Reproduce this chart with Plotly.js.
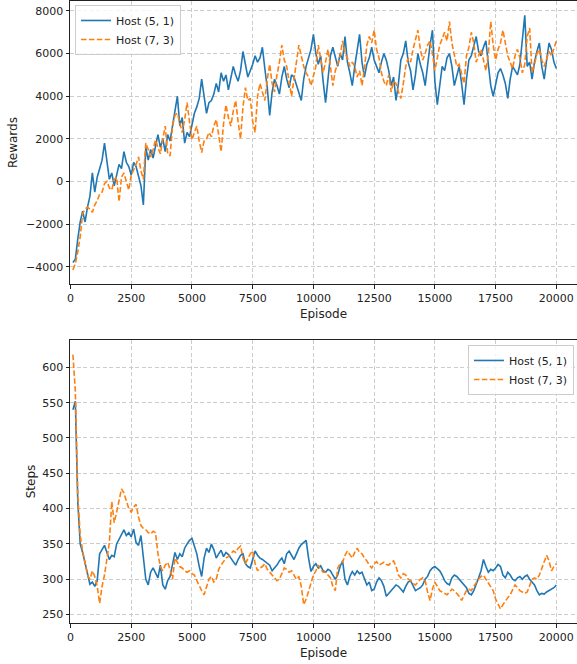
<!DOCTYPE html>
<html>
<head>
<meta charset="utf-8">
<script src="https://cdn.plot.ly/plotly-3.0.1.min.js"></script>
<style>
html,body{margin:0;padding:0;background:#fff;}
#chart{width:577px;height:664px;}
</style>
</head>
<body>
<div id="chart"></div>
<script>
// Sampled every 100 episodes (100 .. 20000)
const seriesNames = ["Host (5, 1)", "Host (7, 3)"];

const rewardsHost51 = [
 -3800,-3650,-2700,-1900,-1400,-1900,-1200,-700,400,-500,
 200,600,1000,1800,900,100,400,-200,300,800,
 600,1400,900,700,300,900,700,200,-200,-1100,
 1600,1000,1500,1100,1700,2200,1600,2000,1400,2200,
 1900,2600,3300,4000,2600,3000,1800,2300,2100,2600,
 3200,3500,3900,4800,4000,3200,3700,3800,4100,4600,
 4200,5100,4700,5000,4300,4800,5400,5000,4700,5200,
 6100,5500,4900,5200,5500,5900,5600,5800,6300,5300,
 4400,3100,4200,4800,4500,4100,4900,5400,4800,4400,
 5000,4900,4500,4100,3800,4800,5400,5800,6200,6900,
 6000,5500,5900,4700,3700,4800,5900,6300,5800,5400,
 6000,5700,6800,5600,5100,4500,5400,6200,6900,5600,
 4900,5500,5800,6300,5700,5400,5100,5600,6000,5700,
 5200,4500,4900,3800,4600,5700,6000,6600,5600,5200,
 4300,5000,6000,5500,5100,4500,5600,6400,7100,4700,
 3600,4600,5400,5200,5800,6000,5400,4500,5000,5400,
 4600,3600,4800,5700,5900,6400,6800,6100,5900,6300,
 6600,5500,4500,4000,4600,5100,5300,5000,4600,3900,
 4800,5400,5200,5000,5500,6600,7800,5400,5600,4800,
 5600,6100,6500,5400,4800,5700,6500,6200,5600,5300
];

const rewardsHost73 = [
 -4150,-3850,-3300,-2600,-1500,-1300,-1200,-1300,-1450,-1100,
 -900,-600,-500,-100,0,-300,-400,100,200,-950,
 200,400,0,-400,300,550,800,1150,500,100,
 1800,1500,1150,1500,1950,1600,1300,2000,2600,1300,
 1200,2600,3100,3200,2700,2300,2900,3700,2800,1950,
 2300,2600,1900,1350,1900,2000,2300,2100,2600,2900,
 2200,1400,2700,3600,3000,2600,3300,3800,2800,2000,
 3500,4400,3800,3900,2800,2300,4000,4600,4200,3800,
 4800,5500,4600,4200,5000,5600,6400,5700,5400,4700,
 4000,4800,5600,6400,5900,5400,5100,4900,4500,5000,
 5400,6400,5700,5100,5600,6200,5400,4500,5200,5500,
 5900,6600,6000,5800,5400,5600,5400,4900,5200,4500,
 5300,6400,6800,6500,7100,6200,5800,5100,4700,4500,
 5000,4200,4700,4600,4200,3900,4600,5400,5800,5600,
 6200,6600,7100,6200,5700,6000,6400,6600,6000,5200,
 5900,6400,6700,7000,6600,7500,6500,5900,5400,5500,
 5100,4600,5900,6300,7000,6500,5600,5900,6200,5700,
 5200,6000,7500,6400,5700,6200,6500,7100,6400,5900,
 5600,5300,5900,6200,5800,5100,5500,6800,7200,5100,
 5500,6000,6200,5700,5400,5800,6100,5900,6300,6600
];

const stepsHost51 = [
 540,552,410,350,338,322,310,293,296,290,
 298,336,342,348,338,328,334,332,350,357,
 364,370,362,366,360,371,352,348,362,335,
 300,292,310,316,308,302,320,292,286,298,
 304,320,338,328,336,332,344,350,355,358,
 345,336,318,304,330,344,338,350,342,330,
 336,341,332,338,335,330,325,320,328,334,
 336,322,318,316,328,340,334,330,328,325,
 322,320,312,316,320,326,330,322,336,340,
 333,328,336,344,349,352,355,330,311,318,
 322,316,319,312,310,314,312,306,300,306,
 318,326,300,292,304,311,306,312,308,310,
 300,292,296,284,286,296,302,298,290,276,
 280,284,288,292,290,286,282,290,296,298,
 290,284,286,288,292,300,304,312,316,318,
 315,312,306,298,294,292,302,306,304,300,
 296,292,288,280,278,284,292,302,312,328,
 318,310,314,312,316,321,318,306,302,310,
 306,300,298,302,304,300,304,306,300,296,
 292,284,278,280,279,282,284,286,288,292
];

const stepsHost73 = [
 618,566,420,362,340,322,306,300,312,304,
 290,266,290,306,332,352,410,380,395,410,
 428,422,412,400,395,402,406,388,376,372,
 370,366,364,368,366,336,318,312,320,324,
 314,300,330,324,318,316,312,310,312,308,
 306,298,290,284,278,290,300,304,296,300,
 314,320,326,330,332,336,340,338,344,347,
 330,322,330,336,340,322,312,316,318,322,
 314,310,306,302,298,300,308,316,314,310,
 312,306,300,304,290,264,272,283,296,306,
 312,320,314,310,310,306,302,290,284,316,
 322,324,334,340,334,330,338,344,338,336,
 330,326,320,316,322,325,320,322,324,321,
 320,324,326,318,306,302,308,306,300,298,
 294,292,296,300,302,298,282,270,286,296,
 290,284,282,280,278,282,286,284,280,276,
 270,278,284,286,284,290,296,300,304,306,
 300,294,290,284,272,266,258,264,270,274,
 278,284,292,288,284,282,280,282,290,300,
 302,300,306,316,326,334,326,312,318,322
];

const episodes = rewardsHost51.map((_, i) => (i + 1) * 100);

const xTicks = [0, 2500, 5000, 7500, 10000, 12500, 15000, 17500, 20000];
const rewardTicks = [-4000, -2000, 0, 2000, 4000, 6000, 8000];
const stepTicks = [250, 300, 350, 400, 450, 500, 550, 600];

const blue = '#1f77b4', orange = '#ff7f0e';
const fontFam = '"DejaVu Sans", Verdana, sans-serif';

const traces = [
  {x: episodes, y: rewardsHost51, name: seriesNames[0], type: 'scatter', mode: 'lines',
   line: {color: blue, width: 1.6}, xaxis: 'x', yaxis: 'y', legend: 'legend'},
  {x: episodes, y: rewardsHost73, name: seriesNames[1], type: 'scatter', mode: 'lines',
   line: {color: orange, width: 1.6, dash: '5.5px,2.4px'}, xaxis: 'x', yaxis: 'y', legend: 'legend'},
  {x: episodes, y: stepsHost51, name: seriesNames[0], type: 'scatter', mode: 'lines',
   line: {color: blue, width: 1.6}, xaxis: 'x2', yaxis: 'y2', legend: 'legend2'},
  {x: episodes, y: stepsHost73, name: seriesNames[1], type: 'scatter', mode: 'lines',
   line: {color: orange, width: 1.6, dash: '5.5px,2.4px'}, xaxis: 'x2', yaxis: 'y2', legend: 'legend2'}
];

const axisCommon = {
  showgrid: true, gridcolor: '#cccccc', griddash: '4px,2.5px', gridwidth: 1,
  zeroline: false, showline: true, linecolor: '#222', linewidth: 1,
  ticks: 'outside', ticklen: 3.5, tickwidth: 1, tickcolor: '#222',
  tickfont: {family: fontFam, size: 11, color: '#222'}
};

const xRange = [-20, 20850];

const layout = {
  width: 577, height: 664,
  margin: {l: 70, r: 0, t: 1, b: 41},
  paper_bgcolor: '#fff', plot_bgcolor: '#fff',
  font: {family: fontFam, size: 11, color: '#222'},
  xaxis: Object.assign({}, axisCommon, {
    domain: [0, 1], anchor: 'y', range: xRange, tickvals: xTicks, tickformat: 'd',
    mirror: true,
    title: {text: 'Episode', font: {family: fontFam, size: 12, color: '#222'}, standoff: 5}
  }),
  yaxis: Object.assign({}, axisCommon, {
    domain: [0.545, 1], anchor: 'x', range: [-4812, 8469], tickvals: rewardTicks, tickformat: 'd',
    title: {text: 'Rewards', font: {family: fontFam, size: 12, color: '#222'}, standoff: 5}
  }),
  xaxis2: Object.assign({}, axisCommon, {
    domain: [0, 1], anchor: 'y2', range: xRange, tickvals: xTicks, tickformat: 'd',
    mirror: true,
    title: {text: 'Episode', font: {family: fontFam, size: 12, color: '#222'}, standoff: 5}
  }),
  yaxis2: Object.assign({}, axisCommon, {
    domain: [0, 0.455], anchor: 'x2', range: [238.1, 638.7], tickvals: stepTicks, tickformat: 'd',
    title: {text: 'Steps', font: {family: fontFam, size: 12, color: '#222'}, standoff: 4}
  }),
  legend: {
    x: 0.0099, y: 0.9936, xanchor: 'left', yanchor: 'top',
    bgcolor: 'rgba(255,255,255,0.8)', bordercolor: '#cccccc', borderwidth: 1,
    font: {family: fontFam, size: 11, color: '#222'}
  },
  legend2: {
    x: 0.994, y: 0.447, xanchor: 'right', yanchor: 'top',
    bgcolor: 'rgba(255,255,255,0.8)', bordercolor: '#cccccc', borderwidth: 1,
    font: {family: fontFam, size: 11, color: '#222'}
  },
  showlegend: true
};

Plotly.newPlot('chart', traces, layout, {displayModeBar: false, staticPlot: true});
</script>
</body>
</html>
